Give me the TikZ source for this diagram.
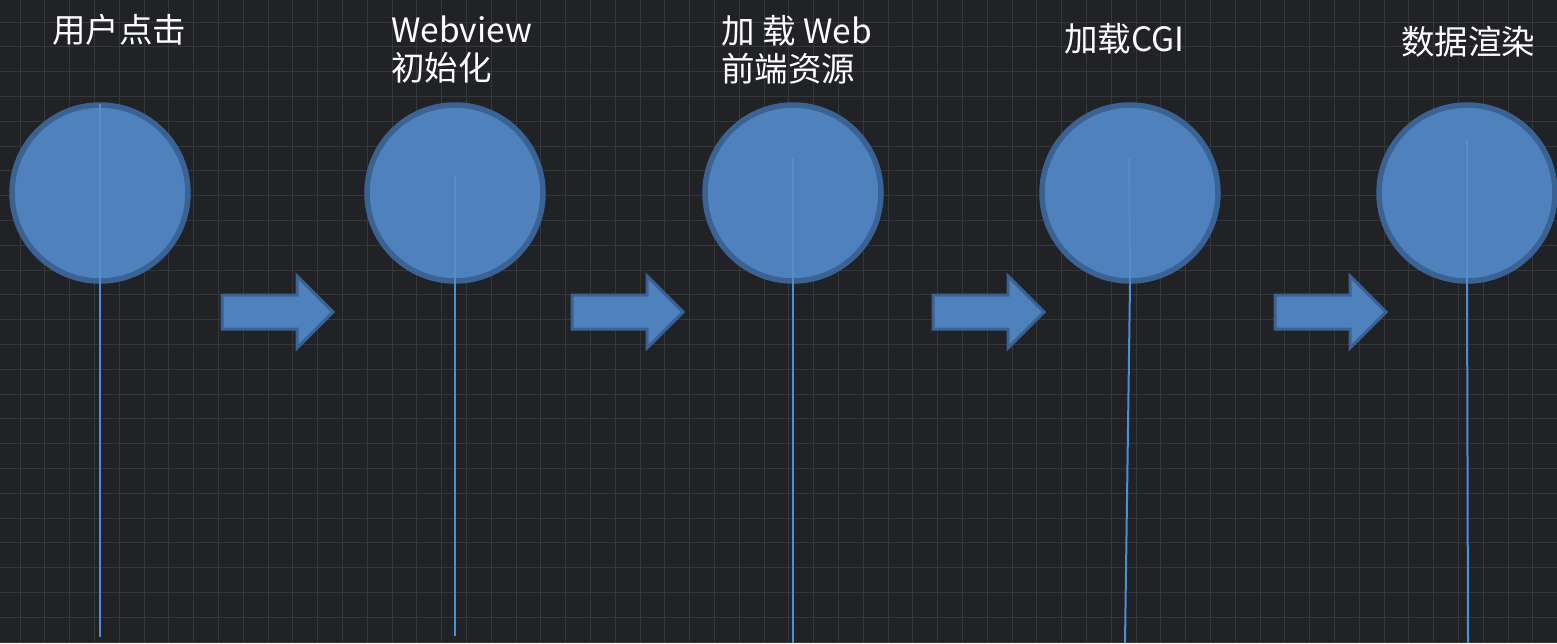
\documentclass[tikz,border=0pt]{standalone}
\usepackage{fontspec}
\newfontfamily\cjk{Noto Sans CJK SC}
\definecolor{bgc}{HTML}{212226}
\definecolor{gridc}{HTML}{35373B}
\definecolor{cfill}{HTML}{4F81BD}
\definecolor{cborder}{HTML}{3A6394}
\definecolor{cinner}{HTML}{5A8CCB}
\definecolor{cline}{HTML}{4A8FDB}
\begin{document}
\begin{tikzpicture}[x=1pt,y=-1pt,
  bubble/.style={circle,draw=cborder,fill=cfill,line width=5.5pt,minimum size=176pt,inner sep=0pt},
  captxt/.style={text=white,font=\cjk\fontsize{33.5}{38}\selectfont,anchor=west,inner sep=0pt,align=left},
  stemin/.style={draw=cinner,line width=1.5pt},
  stem/.style={draw=cline,line width=2pt},
  flow/.style={fill=cfill,draw=cborder,line width=3pt,line join=miter},
  gridline/.style={draw=gridc,line width=1pt}]
\fill[bgc] (0,0) rectangle (1557,643);
\useasboundingbox (0,0) rectangle (1557,643);
\foreach \i in {0,...,61} \draw[gridline] ({20+24.8*\i},0) -- ({20+24.8*\i},643);
\foreach \i in {0,...,25} \draw[gridline] (0,{22+24.8*\i}) -- (1557,{22+24.8*\i});

% circles
\node[bubble] (c1) at (100,193) {};
\node[bubble] (c2) at (455,193) {};
\node[bubble] (c3) at (793,193) {};
\node[bubble] (c4) at (1130,193) {};
\node[bubble] (c5) at (1467,193) {};

% stems
\coordinate (s1) at (100,104);
\coordinate (s2) at (455,175);
\coordinate (s3) at (793,158);
\coordinate (s4) at (1129,158);
\coordinate (s5) at (1467,140);
\coordinate (e1) at (100,637);
\coordinate (e2) at (455,636);
\coordinate (e3) at (793,643);
\coordinate (e4) at (1125,643);
\coordinate (e5) at (1468,643);
\foreach \k in {1,...,5} {
  \draw[stemin] (s\k) -- (c\k.south);
  \draw[stem] (c\k.south) -- (e\k);
}

% labels
\node[captxt] (t1) at (52,30) {用户点击};
\node[captxt] (t2) at (391,50) {Webview\\初始化};
\node[captxt] (t3) at (721,50) {加 载 Web\\前端资源};
\node[captxt] (t4) at (1064,39) {加载CGI};
\node[captxt] (t5) at (1401,42) {数据渲染};

% block arrows
\coordinate (a1) at (222,312);
\coordinate (a2) at (572,312);
\coordinate (a3) at (933,312);
\coordinate (a4) at (1275,312);
\foreach \k in {1,...,4} {
  \draw[flow] (a\k) ++(0,-17) -- ++(75,0) -- ++(0,-19) -- ++(36,36) -- ++(-36,36) -- ++(0,-19) -- ++(-75,0) -- cycle;
}
\end{tikzpicture}
\end{document}
